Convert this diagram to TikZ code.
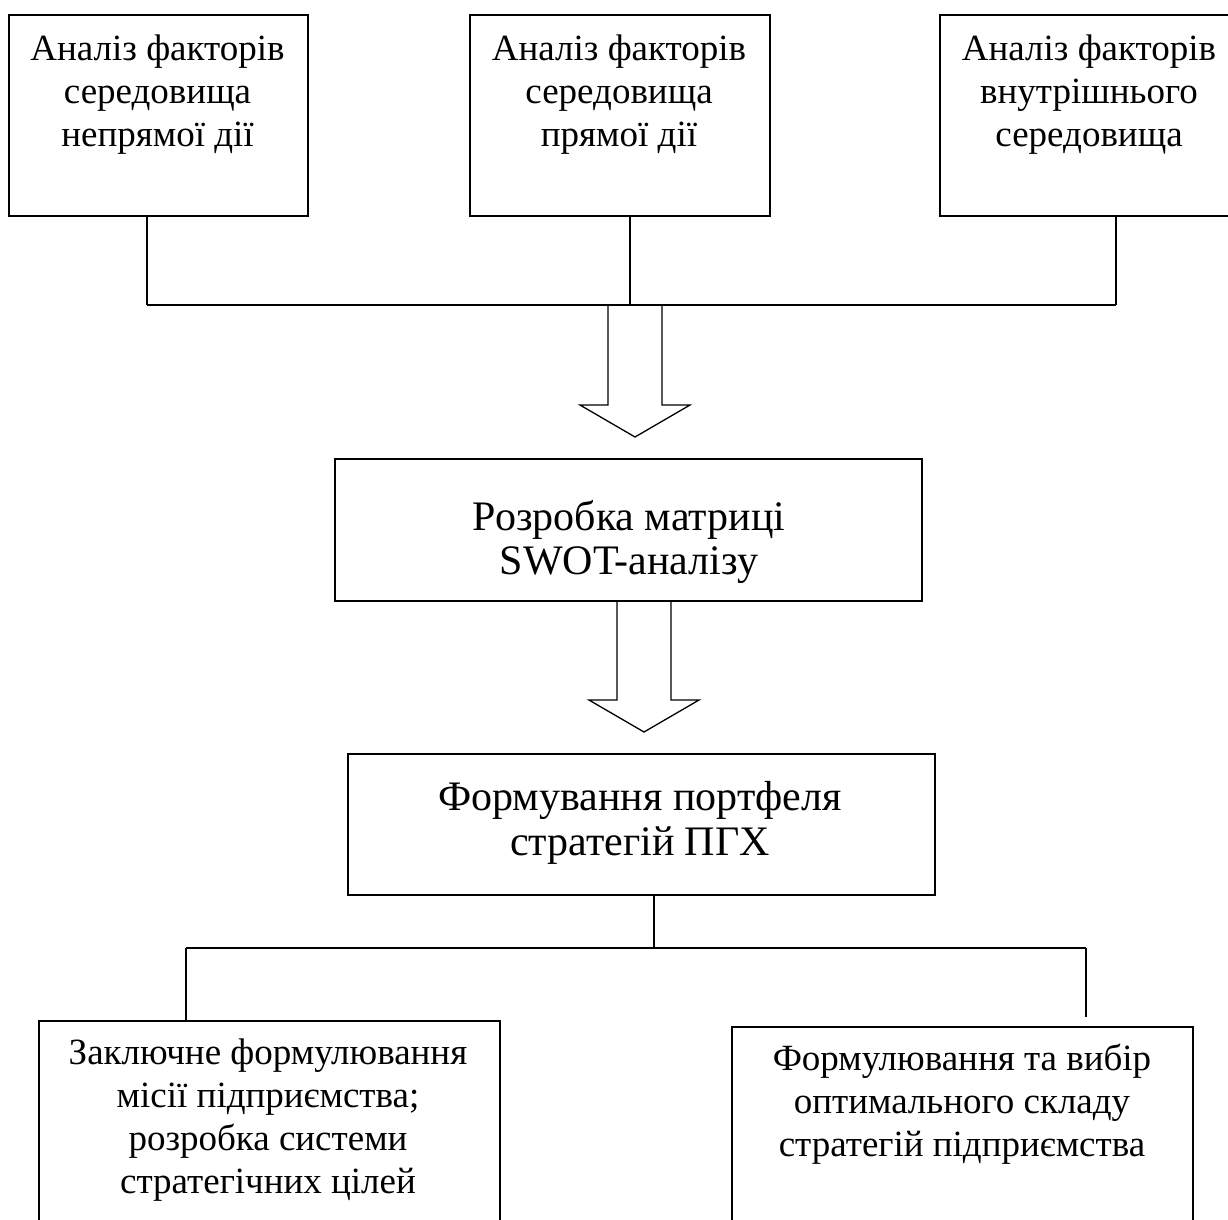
\documentclass[tikz,border=0pt]{standalone}
\usepackage{fontspec}
\setmainfont{Liberation Serif}
\newcommand\boxtext[1]{\begin{tabular}[t]{@{}c@{}}#1\end{tabular}}
\tikzset{
  box/.style={draw, line width=1.5pt, inner sep=0pt, anchor=north west},
  lbl/.style={inner sep=0pt, anchor=base},
  conn/.style={line width=1.3pt},
  hollow/.style={line width=1.3pt, line join=miter},
  small/.style={font=\fontsize{37}{43}\selectfont},
}
\begin{document}
\begin{tikzpicture}[x=1pt,y=-1pt]
\useasboundingbox (0,0) rectangle (1228,1219);
\clip (0,0) rectangle (1228,1219);
% top boxes
\node[box, minimum width=299pt, minimum height=201pt] (b1) at (8,14) {};
\node[box, minimum width=300pt, minimum height=201pt] (b2) at (469,14) {};
\node[box, minimum width=300pt, minimum height=201pt] (b3) at (939,14) {};
\node[lbl, small] (t1) at (157.5,60) {\boxtext{Аналіз факторів\\середовища\\непрямої дії}};
\node[lbl, small] (t2) at (619,60) {\boxtext{Аналіз факторів\\середовища\\прямої дії}};
\node[lbl, small] (t3) at (1089,60) {\boxtext{Аналіз факторів\\внутрішнього\\середовища}};
% joins
\coordinate (j1) at (147,305);
\coordinate (j2) at (630,305);
\coordinate (j3) at (1116,305);
\draw[conn] (b1.south -| j1) -- (j1);
\draw[conn] (b2.south -| j2) -- (j2);
\draw[conn] (b3.south -| j3) -- (j3);
\draw[conn] (j1) -- (j3);
% hollow arrow 1
\coordinate (a1top) at (635,305);
\draw[hollow] ([xshift=-27pt]a1top) -- ++(0,100) -- ++(-28,0) -- ++(55,32) -- ++(55,-32) -- ++(-28,0) -- ++(0,-100);
% SWOT box
\node[box, minimum width=587pt, minimum height=142pt] (swot) at (334,458) {};
\node[lbl, font=\fontsize{42}{44}\selectfont] (tswot) at (629,530) {\boxtext{Розробка матриці\\SWOT-аналізу}};
% hollow arrow 2
\coordinate (a2top) at (644,600);
\draw[hollow] ([xshift=-27pt]a2top) -- ++(0,100) -- ++(-28,0) -- ++(55,32) -- ++(55,-32) -- ++(-28,0) -- ++(0,-100);
% PGH box
\node[box, minimum width=587pt, minimum height=141pt] (pgh) at (347,753) {};
\node[lbl, font=\fontsize{42}{45}\selectfont] (tpgh) at (640,810) {\boxtext{Формування портфеля\\стратегій ПГХ}};
% bottom boxes
\node[box, minimum width=461pt, minimum height=240pt] (bl) at (38,1020) {};
\node[box, minimum width=461pt, minimum height=240pt] (br) at (731,1026) {};
\node[lbl, small] (tbl) at (268,1064) {\boxtext{Заключне формулювання\\місії підприємства;\\розробка системи\\стратегічних цілей}};
\node[lbl, small] (tbr) at (962,1070) {\boxtext{Формулювання та вибір\\оптимального складу\\стратегій підприємства}};
% bottom connectors
\coordinate (k0) at (654,948);
\coordinate (kL) at (186,948);
\coordinate (kR) at (1086,948);
\coordinate (kRend) at (1086,1017);
\draw[conn] (pgh.south -| k0) -- (k0);
\draw[conn] (kL) -- (kR);
\draw[conn] (kL) -- (bl.north -| kL);
\draw[conn] (kR) -- (kRend);
\end{tikzpicture}
\end{document}
